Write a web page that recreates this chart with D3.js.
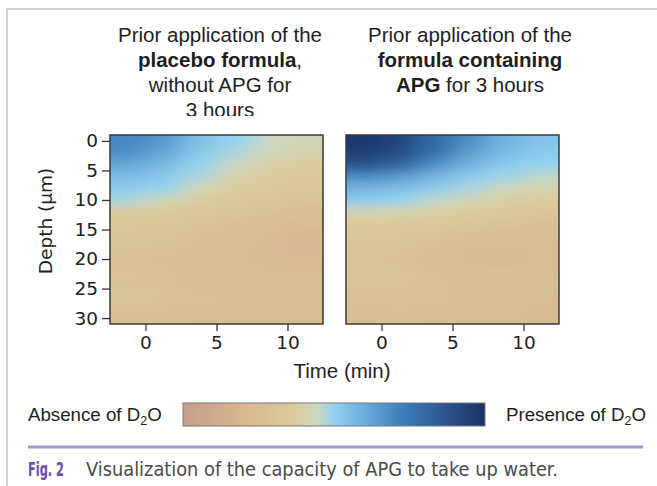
<!DOCTYPE html>
<html>
<head>
<meta charset="utf-8">
<script src="https://cdn.jsdelivr.net/npm/d3@7"></script>
<style>
  body { margin: 0; background: #fff; }
  svg { display: block; }
</style>
</head>
<body>
<div id="chart"></div>
<script>
const times = [-1.25, 1.25, 3.75, 6.25, 8.75, 11.25];          // column centres (min)
const depths = [0, 2, 4, 6, 8, 10, 12, 14, 16, 18, 20, 22, 24, 26, 28, 30]; // row centres (µm)

const placebo = [
  [0.70, 0.66, 0.55, 0.50, 0.45, 0.42],
  [0.68, 0.62, 0.53, 0.48, 0.43, 0.40],
  [0.62, 0.57, 0.50, 0.44, 0.38, 0.36],
  [0.56, 0.53, 0.48, 0.40, 0.36, 0.34],
  [0.52, 0.50, 0.43, 0.36, 0.34, 0.32],
  [0.48, 0.43, 0.37, 0.34, 0.32, 0.30],
  [0.36, 0.35, 0.33, 0.31, 0.29, 0.26],
  [0.33, 0.32, 0.30, 0.28, 0.25, 0.22],
  [0.31, 0.30, 0.28, 0.26, 0.23, 0.20],
  [0.30, 0.29, 0.27, 0.25, 0.22, 0.20],
  [0.28, 0.27, 0.25, 0.24, 0.22, 0.21],
  [0.30, 0.29, 0.27, 0.26, 0.24, 0.23],
  [0.29, 0.28, 0.27, 0.26, 0.25, 0.24],
  [0.31, 0.30, 0.28, 0.27, 0.26, 0.25],
  [0.29, 0.28, 0.27, 0.26, 0.25, 0.24],
  [0.27, 0.27, 0.26, 0.25, 0.24, 0.23]
];

const apg = [
  [0.97, 0.93, 0.80, 0.68, 0.58, 0.54],
  [0.95, 0.90, 0.78, 0.64, 0.56, 0.52],
  [0.88, 0.82, 0.68, 0.58, 0.52, 0.50],
  [0.70, 0.66, 0.58, 0.52, 0.49, 0.46],
  [0.58, 0.56, 0.52, 0.48, 0.44, 0.40],
  [0.52, 0.50, 0.46, 0.42, 0.38, 0.36],
  [0.42, 0.40, 0.38, 0.36, 0.34, 0.32],
  [0.35, 0.35, 0.34, 0.32, 0.30, 0.28],
  [0.33, 0.32, 0.30, 0.28, 0.26, 0.25],
  [0.31, 0.30, 0.27, 0.24, 0.23, 0.23],
  [0.30, 0.29, 0.25, 0.22, 0.22, 0.23],
  [0.31, 0.30, 0.28, 0.26, 0.25, 0.24],
  [0.30, 0.30, 0.28, 0.27, 0.26, 0.25],
  [0.28, 0.29, 0.28, 0.27, 0.26, 0.24],
  [0.27, 0.28, 0.27, 0.26, 0.25, 0.23],
  [0.26, 0.27, 0.26, 0.25, 0.24, 0.22]
];

const timeTicks = [0, 5, 10];
const depthTicks = [0, 5, 10, 15, 20, 25, 30];

// colour map (absence -> presence)
const colorDomain = [0, 0.18, 0.36, 0.45, 0.5, 0.72, 1];
const colorRange = ["#c79d88", "#d6b48f", "#ddca9c", "#c9d8bf", "#93d3f1", "#3f7fbe", "#1b3162"];

const width = 657, height = 486;
const svg = d3.select("#chart").append("svg")
    .attr("width", width)
    .attr("height", height);

const defs = svg.append("defs");

// light grey frame of the page (top and left)
svg.append("path")
    .attr("d", `M7,486 V9 H657`)
    .attr("fill", "none")
    .attr("stroke", "#d2d2d2")
    .attr("stroke-width", 2);

const color = d3.scaleLinear().domain(colorDomain).range(colorRange).clamp(true);

const plotTop = 135, plotBottom = 324, panelW = 213;
const y = d3.scaleLinear().domain([-1, 31]).range([plotTop, plotBottom]);

// smooth look of the heatmaps
defs.append("filter")
    .attr("id", "smooth")
    .attr("filterUnits", "userSpaceOnUse")
    .attr("x", 0).attr("y", 0).attr("width", width).attr("height", height)
    .append("feGaussianBlur")
    .attr("stdDeviation", "13 5");

const axisFont = "'DejaVu Sans', sans-serif";
const textFont = "'Liberation Sans', Arial, sans-serif";

function drawPanel(id, left, values, withYAxis) {
    const x = d3.scaleLinear().domain([-2.5, 12.5]).range([left, left + panelW]);
    const dt = times[1] - times[0], dd = depths[1] - depths[0];

    defs.append("clipPath").attr("id", "clip-" + id)
        .append("rect")
        .attr("x", left).attr("y", plotTop)
        .attr("width", panelW).attr("height", plotBottom - plotTop);

    const cells = [];
    values.forEach((row, i) => row.forEach((v, j) => cells.push({i, j, v})));

    const g = svg.append("g").attr("clip-path", `url(#clip-${id})`)
        .append("g").attr("filter", "url(#smooth)");

    // edge cells are stretched outward so the blur does not fade at the border
    const x0 = d => d.j === 0 ? left - 40 : x(times[d.j] - dt / 2);
    const x1 = d => d.j === times.length - 1 ? left + panelW + 40 : x(times[d.j] + dt / 2);
    const y0 = d => d.i === 0 ? plotTop - 20 : y(depths[d.i] - dd / 2);
    const y1 = d => d.i === depths.length - 1 ? plotBottom + 20 : y(depths[d.i] + dd / 2);

    g.selectAll("rect")
        .data(cells)
        .join("rect")
        .attr("x", x0)
        .attr("y", y0)
        .attr("width", d => x1(d) - x0(d) + 0.5)
        .attr("height", d => y1(d) - y0(d) + 0.5)
        .attr("fill", d => color(d.v));

    // x axis
    const xAxis = svg.append("g")
        .attr("transform", `translate(0,${plotBottom})`)
        .call(d3.axisBottom(x).tickValues(timeTicks).tickSize(7).tickPadding(5));
    xAxis.select(".domain").remove();
    xAxis.selectAll("line").attr("stroke", "#333").attr("stroke-width", 1.3);
    xAxis.selectAll("text").attr("font-family", axisFont).attr("font-size", 18.5).attr("fill", "#222");

    if (withYAxis) {
        const yAxis = svg.append("g")
            .attr("transform", `translate(${left},0)`)
            .call(d3.axisLeft(y).tickValues(depthTicks).tickSize(8).tickPadding(4));
        yAxis.select(".domain").remove();
        yAxis.selectAll("line").attr("stroke", "#333").attr("stroke-width", 1.3);
        yAxis.selectAll("text").attr("font-family", axisFont).attr("font-size", 18.5).attr("fill", "#222");
    }

    svg.append("rect")
        .attr("x", left).attr("y", plotTop)
        .attr("width", panelW).attr("height", plotBottom - plotTop)
        .attr("fill", "none")
        .attr("stroke", "#3a3a3a")
        .attr("stroke-width", 1.5);
}

drawPanel("p1", 110, placebo, true);
drawPanel("p2", 346, apg, false);

// titles
function title(cx, lines, clipY) {
    const t = svg.append("text")
        .attr("text-anchor", "middle")
        .attr("font-family", textFont)
        .attr("font-size", 20.5)
        .attr("fill", "#1e1e1e");
    if (clipY) {
        defs.append("clipPath").attr("id", "clip-title")
            .append("rect").attr("x", 0).attr("y", 0).attr("width", width).attr("height", clipY);
        t.attr("clip-path", "url(#clip-title)");
    }
    lines.forEach((parts, i) => {
        const line = t.append("tspan").attr("x", cx).attr("y", 42 + i * 25);
        parts.forEach(p => {
            line.append("tspan")
                .attr("font-weight", p.b ? "bold" : null)
                .text(p.s);
        });
    });
}

title(220, [
    [{s: "Prior application of the"}],
    [{s: "placebo formula", b: true}, {s: ","}],
    [{s: "without APG for"}],
    [{s: "3 hours"}]
], 116);

title(470, [
    [{s: "Prior application of the"}],
    [{s: "formula containing", b: true}],
    [{s: "APG", b: true}, {s: " for 3 hours"}]
]);

// axis titles
svg.append("text")
    .attr("x", 342).attr("y", 378)
    .attr("text-anchor", "middle")
    .attr("font-family", textFont).attr("font-size", 20.5).attr("fill", "#222")
    .text("Time (min)");

svg.append("text")
    .attr("transform", "translate(52,221) rotate(-90)")
    .attr("text-anchor", "middle")
    .attr("font-family", axisFont).attr("font-size", 18.5).attr("fill", "#222")
    .text("Depth (µm)");

// colour bar
const cb = {x: 183, y: 403, w: 302, h: 23};
const grad = defs.append("linearGradient").attr("id", "cbar")
    .attr("x1", "0%").attr("x2", "100%").attr("y1", "0%").attr("y2", "0%");
grad.selectAll("stop")
    .data(colorDomain)
    .join("stop")
    .attr("offset", d => d * 100 + "%")
    .attr("stop-color", d => color(d));

svg.append("rect")
    .attr("x", cb.x).attr("y", cb.y).attr("width", cb.w).attr("height", cb.h)
    .attr("fill", "url(#cbar)")
    .attr("stroke", "#777").attr("stroke-width", 1);

function d2oLabel(x, prefix) {
    const t = svg.append("text")
        .attr("x", x).attr("y", 421)
        .attr("font-family", textFont).attr("font-size", 18.7).attr("fill", "#1e1e1e");
    t.append("tspan").text(prefix + " of D");
    t.append("tspan").attr("font-size", 12.5).attr("dy", 4).text("2");
    t.append("tspan").attr("dy", -4).text("O");
}
d2oLabel(28, "Absence");
d2oLabel(506, "Presence");

// caption
svg.append("line")
    .attr("x1", 28).attr("x2", 643).attr("y1", 447).attr("y2", 447)
    .attr("stroke", "#a295d3").attr("stroke-width", 3);

const capFont = "'Liberation Sans Narrow', 'DejaVu Sans Condensed', sans-serif";
svg.append("text")
    .attr("x", 28).attr("y", 476)
    .attr("font-family", capFont).attr("font-size", 19).attr("font-weight", "bold")
    .attr("fill", "#6a4ea8")
    .attr("textLength", 36).attr("lengthAdjust", "spacingAndGlyphs")
    .text("Fig. 2");

svg.append("text")
    .attr("x", 86).attr("y", 476)
    .attr("font-family", capFont).attr("font-size", 19)
    .attr("fill", "#4a4a4a")
    .attr("textLength", 472).attr("lengthAdjust", "spacingAndGlyphs")
    .text("Visualization of the capacity of APG to take up water.");
</script>
</body>
</html>
